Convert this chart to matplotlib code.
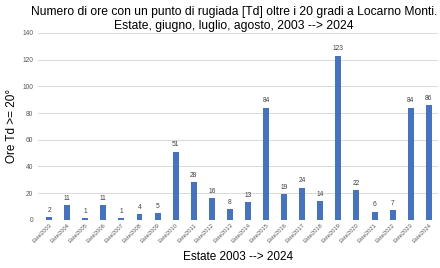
import matplotlib.pyplot as plt

plt.rcParams["font.family"] = ["Liberation Sans", "DejaVu Sans"]

years = list(range(2003, 2025))
labels = ["Este%d" % y for y in years]
hours = [2, 11, 1, 11, 1, 4, 5, 51, 28, 16, 8, 13, 84, 19, 24, 14, 123, 22, 6, 7, 84, 86]

fig, ax = plt.subplots(figsize=(4.4, 2.68), dpi=100)
fig.subplots_adjust(left=0.087, right=0.995, top=0.877, bottom=0.18)

x = range(len(hours))
ax.bar(x, hours, width=0.33, color="#4472C4", zorder=3)
for i, v in zip(x, hours):
    ax.text(i, v + 2.5, str(v), ha="center", va="bottom", fontsize=4.8, color="#404040")

ax.set_ylim(0, 140)
ax.set_yticks(range(0, 141, 20))
ax.set_xlim(-0.6, len(hours) - 0.5)
ax.set_xticks(list(x))
ax.set_xticklabels(labels, rotation=45, ha="right", rotation_mode="anchor", fontsize=4.2, color="#595959")
ax.tick_params(axis="y", labelsize=4.8, colors="#595959", length=0)
ax.tick_params(axis="x", length=0, pad=2)
ax.grid(axis="y", color="#d9d9d9", linewidth=0.7, zorder=0)
for s in ax.spines.values():
    s.set_visible(False)

fig.text(0.532, 0.977, "Numero di ore con un punto di rugiada [Td] oltre i 20 gradi a Locarno Monti.\n"
         "Estate, giugno, luglio, agosto, 2003 --> 2024", fontsize=8.7, ha="center", va="top",
         linespacing=1.2)
ax.set_ylabel("Ore Td >= 20°", fontsize=8.5, labelpad=3)
ax.set_xlabel("Estate 2003 --> 2024", fontsize=8.5, labelpad=5)

plt.savefig("out.png", dpi=100)
